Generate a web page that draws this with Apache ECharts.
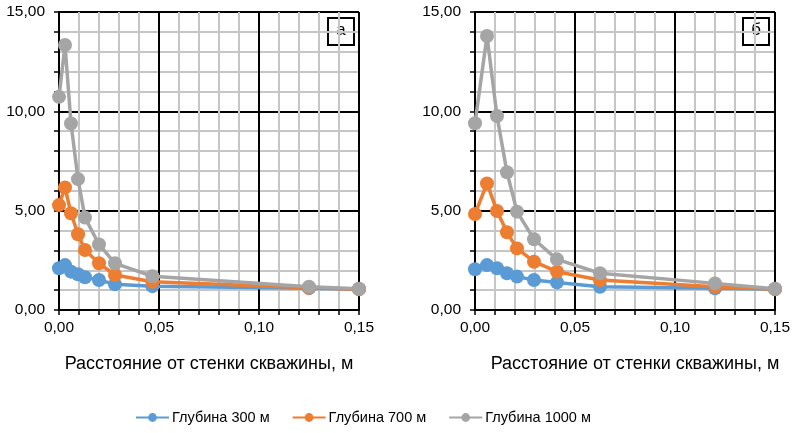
<!DOCTYPE html>
<html>
<head>
<meta charset="utf-8">
<script src="https://cdn.jsdelivr.net/npm/echarts@6/dist/echarts.min.js"></script>
<style>
  html, body { margin: 0; padding: 0; background: #fff; }
  #chart { width: 794px; height: 433px; }
</style>
</head>
<body>
<div id="chart"></div>
<script>
// расстояние от стенки скважины, м
const xA = [0, 0.003, 0.006, 0.0095, 0.013, 0.02, 0.028, 0.0467, 0.125, 0.15];
const xB = [0, 0.006, 0.011, 0.016, 0.021, 0.0295, 0.041, 0.0625, 0.12, 0.15];

// график а
const a300 = [2.1, 2.26, 1.93, 1.8, 1.65, 1.51, 1.29, 1.2, 1.1, 1.05];
const a700 = [5.28, 6.17, 4.87, 3.81, 3.02, 2.35, 1.76, 1.42, 1.12, 1.05];
const a1000 = [10.73, 13.34, 9.39, 6.59, 4.65, 3.3, 2.35, 1.7, 1.17, 1.07];

// график б
const b300 = [2.05, 2.26, 2.1, 1.85, 1.68, 1.51, 1.39, 1.17, 1.09, 1.05];
const b700 = [4.83, 6.37, 4.98, 3.91, 3.1, 2.43, 1.93, 1.51, 1.17, 1.05];
const b1000 = [9.4, 13.79, 9.76, 6.93, 4.95, 3.56, 2.55, 1.85, 1.34, 1.07];

const names = ["Глубина 300 м", "Глубина 700 м", "Глубина 1000 м"];
const colors = ["#5b9bd5", "#ed7d31", "#a5a5a5"];
const xTitle = "Расстояние от стенки скважины, м";

const font = "Liberation Sans, Arial, sans-serif";
const fmt = (v) => v.toFixed(2).replace(".", ",");

function xAxis(idx, shift) {
  return {
    type: "value",
    gridIndex: idx,
    min: 0,
    max: 0.15,
    interval: 0.05,
    name: xTitle,
    nameLocation: "middle",
    nameGap: 45,
    nameTextStyle: { color: "#000", fontSize: 18, fontFamily: font, padding: [0, 0, 0, shift] },
    axisLine: { lineStyle: { color: "#000", width: 2 } },
    axisTick: { show: true, length: 5, lineStyle: { color: "#000", width: 1.5 } },
    minorTick: { show: true, splitNumber: 5, length: 5, lineStyle: { color: "#000", width: 1.5 } },
    axisLabel: { color: "#000", fontSize: 15.5, fontFamily: font, margin: 10, formatter: fmt },
    splitLine: { show: true, lineStyle: { color: "#000", width: 2 } },
    minorSplitLine: { show: true, lineStyle: { color: "#c6c6c6", width: 2 } },
  };
}

function yAxis(idx) {
  return {
    type: "value",
    gridIndex: idx,
    min: 0,
    max: 15,
    interval: 5,
    axisLine: { show: true, lineStyle: { color: "#000", width: 2 } },
    axisTick: { show: true, length: 5, lineStyle: { color: "#000", width: 1.5 } },
    minorTick: { show: true, splitNumber: 5, length: 5, lineStyle: { color: "#000", width: 1.5 } },
    axisLabel: { color: "#000", fontSize: 15.5, fontFamily: font, margin: 14, formatter: fmt },
    splitLine: { show: true, lineStyle: { color: "#000", width: 2 } },
    minorSplitLine: { show: true, lineStyle: { color: "#c6c6c6", width: 2 } },
  };
}

function pairs(xs, ys) {
  return xs.map((x, i) => [x, ys[i]]);
}

function line(name, color, idx, xs, ys) {
  return {
    name: name,
    type: "line",
    xAxisIndex: idx,
    yAxisIndex: idx,
    data: pairs(xs, ys),
    symbol: "circle",
    symbolSize: 14,
    lineStyle: { color: color, width: 3.5 },
    itemStyle: { color: color },
    emphasis: { disabled: true },
    animation: false,
  };
}

function tag(text, left) {
  return {
    type: "group",
    left: left,
    top: 17,
    children: [
      { type: "rect", shape: { x: 0, y: 0, width: 26, height: 27 }, style: { fill: "#fff", stroke: "#000", lineWidth: 2 } },
      { type: "text", x: 13, y: 12, style: { text: text, fill: "#000", font: "17px " + font, align: "center", verticalAlign: "middle" } },
    ],
  };
}

let myChart = echarts.init(document.getElementById("chart"));
myChart.setOption({
  animation: false,
  color: colors,
  textStyle: { fontFamily: font },
  grid: [
    { left: 59, top: 12, width: 300, height: 298 },
    { left: 475, top: 12, width: 300, height: 298 },
  ],
  xAxis: [xAxis(0, 0), xAxis(1, 20)],
  yAxis: [yAxis(0), yAxis(1)],
  legend: {
    data: names,
    bottom: 3,
    left: 130,
    itemWidth: 33,
    itemHeight: 11,
    itemGap: 22,
    textStyle: { color: "#000", fontSize: 14.5, fontFamily: font, padding: [0, 0, 0, -2] },
  },
  graphic: [tag("а", 327), tag("б", 742)],
  series: [
    line(names[0], colors[0], 0, xA, a300),
    line(names[1], colors[1], 0, xA, a700),
    line(names[2], colors[2], 0, xA, a1000),
    line(names[0], colors[0], 1, xB, b300),
    line(names[1], colors[1], 1, xB, b700),
    line(names[2], colors[2], 1, xB, b1000),
  ],
});
</script>
</body>
</html>
